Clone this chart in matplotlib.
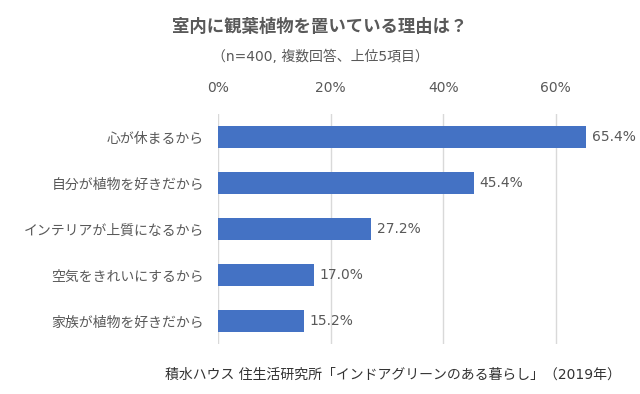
import matplotlib
matplotlib.use("Agg")
import matplotlib.pyplot as plt
from matplotlib.ticker import FuncFormatter

plt.rcParams['font.family'] = ['DejaVu Sans', 'Noto Sans CJK JP']

categories = ["心が休まるから", "自分が植物を好きだから", "インテリアが上質になるから",
              "空気をきれいにするから", "家族が植物を好きだから"]
values = [65.4, 45.4, 27.2, 17.0, 15.2]
ticks = [0, 20, 40, 60]

title = "室内に観葉植物を置いている理由は？"
subtitle = "（n=400, 複数回答、上位5項目）"
source = "積水ハウス 住生活研究所「インドアグリーンのある暮らし」（2019年）"

gray = "#595959"
fig = plt.figure(figsize=(6.4, 3.94), dpi=100)
ax = fig.add_axes([218/640, 1 - 344/394, (612 - 218)/640, 230/394])

y = list(range(len(categories)))
ax.barh(y, values, height=0.48, color="#4472C4", zorder=3)
ax.set_ylim(len(categories) - 0.5, -0.5)
ax.set_xlim(0, 70)
ax.set_yticks(y)
ax.set_yticklabels(categories, fontsize=10, color=gray)
ax.set_xticks(ticks)
ax.xaxis.set_major_formatter(FuncFormatter(lambda v, p: f"{v:.0f}%"))
ax.xaxis.tick_top()
ax.tick_params(axis='x', length=0, labelsize=10, labelcolor=gray, pad=14)
ax.tick_params(axis='y', length=0, pad=10)
ax.grid(axis='x', color="#D9D9D9", linewidth=1, zorder=0)
for s in ax.spines.values():
    s.set_visible(False)

for yi, v in zip(y, values):
    ax.text(v + 1.0, yi, f"{v:.1f}%", va='center', ha='left', fontsize=10, color=gray)

fig.text(0.5, 1 - 27/394, title, ha='center', va='center', fontsize=12.5, fontweight='bold', color=gray)
fig.text(0.5, 1 - 57/394, subtitle, ha='center', va='center', fontsize=10, color=gray)
fig.text(165/640, 1 - 375/394, source, ha='left', va='center', fontsize=10, color="#333333")

fig.savefig("out.png", dpi=100)
